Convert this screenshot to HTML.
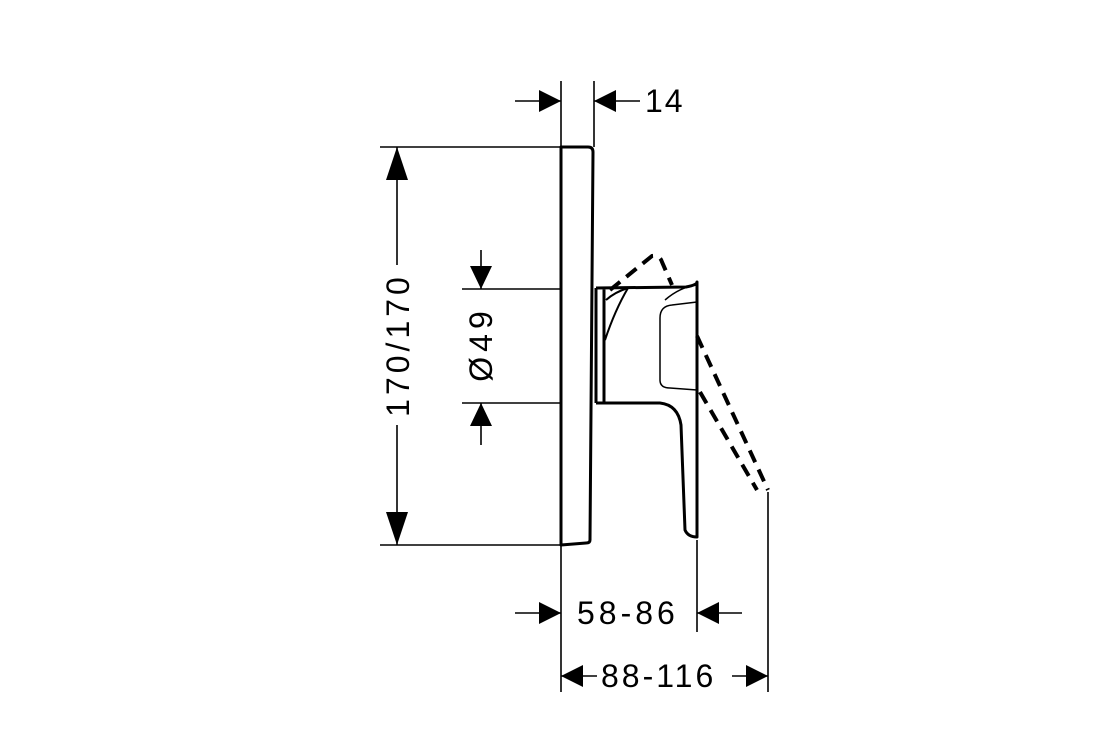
<!DOCTYPE html>
<html><head><meta charset="utf-8"><style>
html,body{margin:0;padding:0;background:#fff;width:1120px;height:750px;overflow:hidden}
text{font-family:"Liberation Sans",sans-serif;font-size:32px;fill:#000}
</style></head><body>
<svg width="1120" height="750" viewBox="0 0 1120 750" xmlns="http://www.w3.org/2000/svg">
<g fill="none" stroke="#000" stroke-width="1.6">
<line x1="380" y1="147" x2="561" y2="147"/>
<line x1="380" y1="545" x2="561" y2="545"/>
<line x1="462" y1="289" x2="561" y2="289"/>
<line x1="462" y1="403" x2="561" y2="403"/>
<line x1="561" y1="81" x2="561" y2="147"/>
<line x1="594" y1="81" x2="594" y2="147"/>
<line x1="561" y1="545" x2="561" y2="692"/>
<line x1="697" y1="540" x2="697" y2="632"/>
<line x1="768" y1="492" x2="768" y2="692"/>
<line x1="397" y1="147" x2="397" y2="265"/>
<line x1="397" y1="425" x2="397" y2="545"/>
<line x1="481" y1="250" x2="481" y2="289"/>
<line x1="481" y1="403" x2="481" y2="445"/>
<line x1="515" y1="101" x2="561" y2="101"/>
<line x1="594" y1="101" x2="640" y2="101"/>
<line x1="515" y1="613" x2="561" y2="613"/>
<line x1="697" y1="613" x2="742" y2="613"/>
<line x1="561" y1="676" x2="597" y2="676"/>
<line x1="732" y1="676" x2="768" y2="676"/>
</g>
<g fill="#000">
<polygon points="397,147 386,180 408,180"/>
<polygon points="397,545 386,512 408,512"/>
<polygon points="481,289 470,266 492,266"/>
<polygon points="481,403 470,426 492,426"/>
<polygon points="561,101 539,90 539,112"/>
<polygon points="594,101 616,90 616,112"/>
<polygon points="561,613 539,602 539,624"/>
<polygon points="697,613 719,602 719,624"/>
<polygon points="561,676 583,665 583,687"/>
<polygon points="768,676 746,665 746,687"/>
</g>
<g fill="none" stroke="#000" stroke-width="3" stroke-linejoin="round">
<path d="M561,147 L588,147 Q593,147 593,152 L590,540 Q590,543 586,543 L561,545 Z"/>
<path d="M596,288 L686,287 Q697,285 697,282 L697,537 Q688,537 685,530 L681,425 Q678,405 660,403 L604,403 L604,288"/>
<line x1="596" y1="288" x2="596" y2="403"/>
<line x1="596" y1="403" x2="605" y2="403"/>
<path d="M605,340 Q615,310 628,288" stroke-width="2"/>
<path d="M606,300 Q615,292 628,288" stroke-width="2"/>
</g>
<path d="M697,302 L672,305 Q660,306 660,318 L660,380 Q660,388 670,388 L697,390" fill="none" stroke="#000" stroke-width="1.5"/>
<path d="M665,300 Q680,287 697,285" fill="none" stroke="#000" stroke-width="1.5"/>
<g fill="none" stroke="#000" stroke-width="4" stroke-dasharray="13,8">
<path d="M610,290 L652,256 Q660,255 662,262 L672,285"/>
<path d="M697,336 L768,490"/>
<path d="M700,392 L757,490"/>
</g>
<text x="645" y="112" letter-spacing="2">14</text>
<text x="577" y="624" letter-spacing="4">58-86</text>
<text x="601" y="687" letter-spacing="3">88-116</text>
<text transform="translate(409,345) rotate(-90)" text-anchor="middle" letter-spacing="4">170/170</text>
<text transform="translate(492,344) rotate(-90)" text-anchor="middle" letter-spacing="5">Ø49</text>
</svg>
</body></html>
